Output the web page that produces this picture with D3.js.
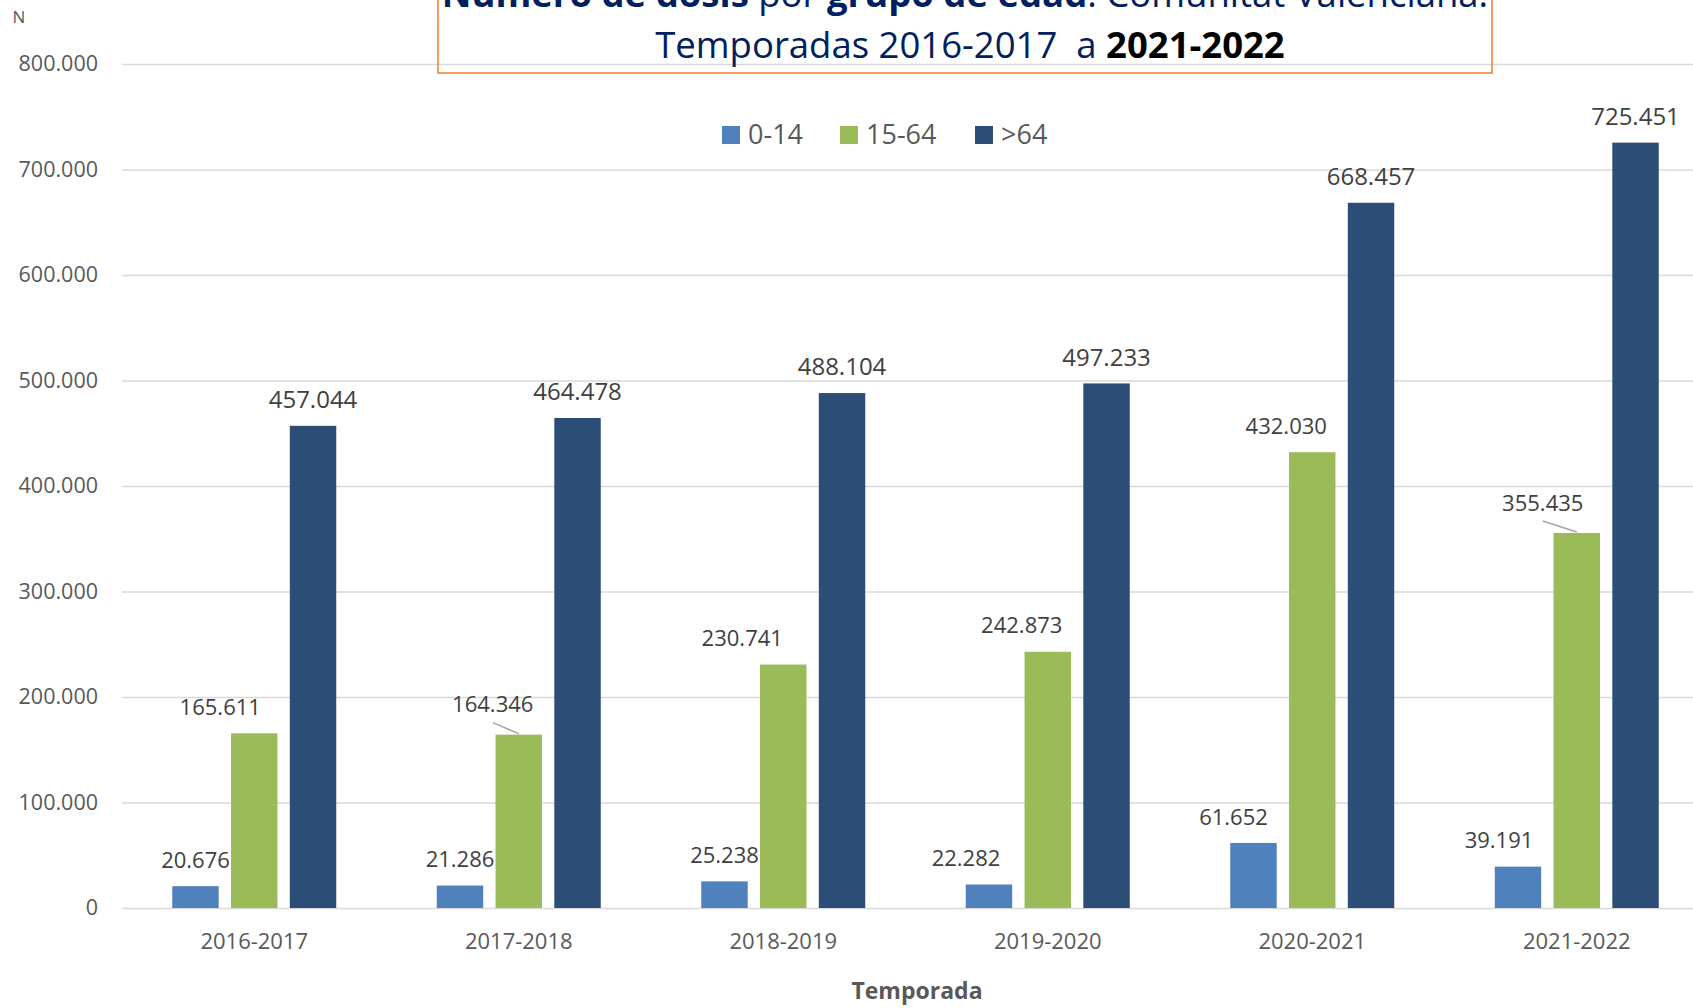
<!DOCTYPE html>
<html>
<head>
<meta charset="utf-8">
<script src="https://cdn.jsdelivr.net/npm/d3@7"></script>
<style>
  body { margin: 0; background: #fff; }
  text { font-family: "Open Sans", "Noto Sans", sans-serif; }
</style>
</head>
<body>
<svg id="chart" width="1693" height="1008"></svg>
<script>
const seasons = ["2016-2017", "2017-2018", "2018-2019", "2019-2020", "2020-2021", "2021-2022"];
const groups = ["0-14", "15-64", ">64"];
const dosis0014 = [20676, 21286, 25238, 22282, 61652, 39191];
const dosis1564 = [165611, 164346, 230741, 242873, 432030, 355435];
const dosis64 = [457044, 464478, 488104, 497233, 668457, 725451];
const yTicks = [0, 100000, 200000, 300000, 400000, 500000, 600000, 700000, 800000];

const colors = ["#4F81BD", "#9BBB59", "#2C4D75"];
// sideways nudges of the value labels (as placed in the original)
const labelDx = [
    [0, 0, 0, -23, -20, -19],
    [-34, -26, -41, -26, -26, -34],
    [0, 0, 0, 0, 0, 0]
];
const leaders = [[1, 1], [1, 5]]; // [serie, temporada] con línea guía

const seriesValues = [dosis0014, dosis1564, dosis64];

const svg = d3.select("#chart");
const fmt = d3.formatLocale({ decimal: ",", thousands: ".", grouping: [3], currency: ["", "€"] }).format(",d");

const x0 = d3.scaleBand().domain(seasons).range([122, 1709]).paddingInner(0.38).paddingOuter(0.19);
const x1 = d3.scaleBand().domain(d3.range(groups.length)).range([0, x0.bandwidth()]).paddingInner(0.21);
const y = d3.scaleLinear().domain([0, 800000]).range([908, 64]);

// gridlines + y labels
const yAxis = svg.append("g")
    .attr("transform", "translate(122,0)")
    .call(d3.axisLeft(y).tickValues(yTicks).tickFormat(fmt).tickSize(-1600).tickPadding(24));
yAxis.select(".domain").remove();
yAxis.selectAll(".tick line").attr("stroke", "#D9D9D9").attr("stroke-width", 1.5);
yAxis.selectAll(".tick text").attr("fill", "#595959").style("font-size", "21.5px");

svg.append("text").attr("x", 19).attr("y", 23).attr("text-anchor", "middle")
    .attr("fill", "#595959").style("font-size", "17px").text("N");

// x labels
const xAxis = svg.append("g")
    .attr("transform", "translate(0,908)")
    .call(d3.axisBottom(x0).tickSize(0).tickPadding(25));
xAxis.select(".domain").remove();
xAxis.selectAll(".tick text").attr("fill", "#595959").style("font-size", "22px");

svg.append("text").attr("x", 917).attr("y", 999).attr("text-anchor", "middle")
    .attr("fill", "#595959").style("font-size", "23px").style("font-weight", "bold").text("Temporada");

// bars
const cells = [];
seriesValues.forEach((vals, s) => vals.forEach((v, i) => cells.push({ s, i, v, season: seasons[i] })));

svg.append("g").selectAll("rect")
    .data(cells)
    .enter().append("rect")
        .attr("x", d => x0(d.season) + x1(d.s))
        .attr("y", d => y(d.v))
        .attr("width", x1.bandwidth())
        .attr("height", d => y(0) - y(d.v))
        .attr("fill", d => colors[d.s]);

// leader lines
const isLeader = d => leaders.some(l => l[0] === d.s && l[1] === d.i);
svg.append("g").selectAll("line")
    .data(cells.filter(isLeader))
    .enter().append("line")
        .attr("x1", d => x0(d.season) + x1(d.s) + x1.bandwidth() / 2 + labelDx[d.s][d.i])
        .attr("y1", d => y(d.v) - 12)
        .attr("x2", d => x0(d.season) + x1(d.s) + x1.bandwidth() / 2)
        .attr("y2", d => y(d.v) - 1)
        .attr("stroke", "#A6A6A6").attr("stroke-width", 1.5);

// value labels
svg.append("g").selectAll("text")
    .data(cells)
    .enter().append("text")
        .attr("x", d => x0(d.season) + x1(d.s) + x1.bandwidth() / 2 + labelDx[d.s][d.i])
        .attr("y", d => y(d.v) - (isLeader(d) ? 30 : 26))
        .attr("dy", "0.35em")
        .attr("text-anchor", "middle")
        .attr("fill", "#404040")
        .style("font-size", d => d.s === 2 ? "24px" : "22px")
        .text(d => fmt(d.v));

// legend
const legend = svg.append("g").attr("transform", "translate(722,135)");
const legendX = [0, 118, 253];
groups.forEach((g, k) => {
    const item = legend.append("g").attr("transform", `translate(${legendX[k]},0)`);
    item.append("rect").attr("x", 0).attr("y", -9).attr("width", 18).attr("height", 18).attr("fill", colors[k]);
    item.append("text").attr("x", 26).attr("dy", "0.35em").attr("fill", "#595959")
        .style("font-size", "27px").text(g);
});

// title box (cut at the top, as in the original)
svg.append("rect").attr("x", 438).attr("y", -40).attr("width", 1054).attr("height", 113)
    .attr("fill", "none").attr("stroke", "#ED7D31").attr("stroke-width", 1.5);

const t1 = svg.append("text").attr("x", 965).attr("y", 7).attr("text-anchor", "middle")
    .attr("fill", "#002060").style("font-size", "36.5px");
t1.append("tspan").style("font-weight", "bold").text("Número de dosis");
t1.append("tspan").text(" por ");
t1.append("tspan").style("font-weight", "bold").text("grupo de edad");
t1.append("tspan").text(":  Comunitat Valenciana.");

const t2 = svg.append("text").attr("x", 970).attr("y", 58).attr("text-anchor", "middle")
    .attr("fill", "#002060").style("font-size", "36.5px").attr("xml:space", "preserve");
t2.append("tspan").text("Temporadas 2016-2017  a ");
t2.append("tspan").style("font-weight", "bold").attr("fill", "#000").text("2021-2022");
</script>
</body>
</html>
